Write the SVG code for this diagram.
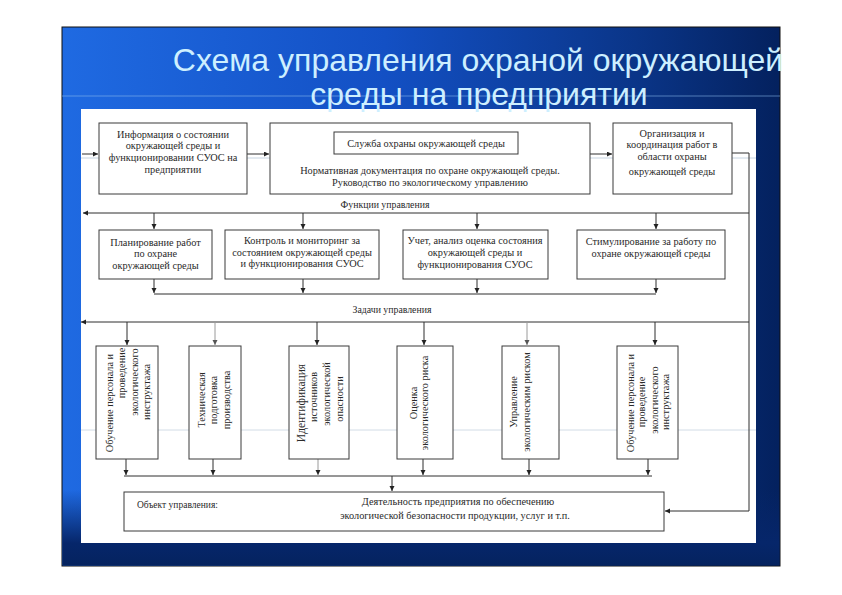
<svg xmlns="http://www.w3.org/2000/svg" width="842" height="595" viewBox="0 0 842 595">
<defs>
<linearGradient id="bg" x1="62" y1="0" x2="780" y2="0" gradientUnits="userSpaceOnUse">
<stop offset="0" stop-color="#1f6ae2"/>
<stop offset="0.45" stop-color="#1350c4"/>
<stop offset="0.8" stop-color="#0a3588"/>
<stop offset="1" stop-color="#04215e"/>
</linearGradient>
<linearGradient id="bot" x1="0" y1="490" x2="0" y2="566" gradientUnits="userSpaceOnUse">
<stop offset="0" stop-color="#06266a" stop-opacity="0"/>
<stop offset="0.7" stop-color="#06266a" stop-opacity="1"/>
<stop offset="1" stop-color="#05235f" stop-opacity="1"/>
</linearGradient>
<marker id="ah" markerUnits="userSpaceOnUse" markerWidth="6" markerHeight="6" refX="5" refY="2.5" orient="auto">
<path d="M0,0 L5,2.5 L0,5 z" fill="#222"/>
</marker>
<marker id="ahl" markerUnits="userSpaceOnUse" markerWidth="6" markerHeight="6" refX="5" refY="2.5" orient="auto">
<path d="M0,0 L5,2.5 L0,5 z" fill="#555"/>
</marker>
</defs>
<style>
.box{fill:#fff;stroke:#3a3a3a;stroke-width:1}
.t{font-family:"Liberation Serif","DejaVu Serif",serif;font-size:10.3px;fill:#2a2a2a;text-anchor:middle}
.tl{font-family:"Liberation Serif","DejaVu Serif",serif;font-size:10px;fill:#2a2a2a}
.c{fill:none;stroke:#2e2e2e;stroke-width:1}
.cl{fill:none;stroke:#9a9a9a;stroke-width:1}
.ttl{font-family:"Liberation Sans",Arial,sans-serif;font-size:32px;fill:#cdefff;text-anchor:middle}
</style>
<rect x="0" y="0" width="842" height="595" fill="#fff"/>
<g id="slide">
<rect x="62" y="27" width="718" height="539" fill="url(#bg)" stroke="#111" stroke-width="1"/>
<rect x="62.5" y="490" width="717" height="75.5" fill="url(#bot)"/>
<line x1="62" y1="96" x2="780" y2="96" stroke="#8fc0ee" stroke-opacity="0.55" stroke-width="1"/>
<rect x="81" y="109" width="675" height="434" fill="#fff"/>
<line x1="81" y1="158" x2="756" y2="158" stroke="#c6d4e2" stroke-width="1"/>
<line x1="81" y1="430" x2="756" y2="430" stroke="#d2dce6" stroke-width="1"/>
</g>
<g id="title">
<text class="ttl" x="478" y="71">Схема управления охраной окружающей</text>
<text class="ttl" x="479" y="105">среды на предприятии</text>
</g>
<g id="connectors">
<path class="c" d="M82,154 H98" marker-end="url(#ah)"/>
<path class="c" d="M247,154 H269" marker-end="url(#ah)"/>
<path class="c" d="M590,154 H612" marker-end="url(#ah)"/>
<path class="c" d="M732,153 H749 V511 H665" marker-end="url(#ah)"/>
<path class="c" d="M749,213 H83" marker-end="url(#ah)"/>
<path class="c" d="M154,213 V229" marker-end="url(#ah)"/>
<path class="c" d="M303,213 V229" marker-end="url(#ah)"/>
<path class="c" d="M477,213 V229" marker-end="url(#ah)"/>
<path class="c" d="M656,213 V229" marker-end="url(#ah)"/>
<path class="c" d="M154,279 V293" marker-end="url(#ah)"/>
<path class="c" d="M303,279 V293" marker-end="url(#ah)"/>
<path class="c" d="M477,279 V293" marker-end="url(#ah)"/>
<path class="c" d="M656,279 V293" marker-end="url(#ah)"/>
<path class="c" d="M154,294 H656"/>
<path class="c" d="M749,322 H81" marker-end="url(#ah)"/>
<path class="c" d="M127,322 V345" marker-end="url(#ah)"/>
<path class="cl" d="M215,322 V345" marker-end="url(#ahl)"/>
<path class="c" d="M317,322 V345" marker-end="url(#ah)"/>
<path class="c" d="M424,322 V345" marker-end="url(#ah)"/>
<path class="cl" d="M527,322 V345" marker-end="url(#ahl)"/>
<path class="c" d="M655,322 V345" marker-end="url(#ah)"/>
<path class="c" d="M126,459 V475" marker-end="url(#ah)"/>
<path class="c" d="M213,459 V475" marker-end="url(#ah)"/>
<path class="cl" d="M318,459 V475" marker-end="url(#ah)"/>
<path class="c" d="M423,459 V475" marker-end="url(#ah)"/>
<path class="c" d="M529,459 V475" marker-end="url(#ah)"/>
<path class="c" d="M648,459 V475" marker-end="url(#ah)"/>
<path class="c" d="M124,476 H652"/>
<path class="c" d="M392,476 V491" marker-end="url(#ah)"/>
<text class="t" x="385" y="207.5" style="font-size:9.8px">Функции управления</text>
<text class="t" x="392" y="312.5" style="font-size:9.8px">Задачи управления</text>
</g>
<g id="info">
<rect class="box" x="99" y="123" width="148" height="71"/>
<text class="t" x="173" y="137.5">Информация о состоянии</text>
<text class="t" x="173" y="149">окружающей среды и</text>
<text class="t" x="173" y="160.5">функционировании СУОС на</text>
<text class="t" x="173" y="173">предприятии</text>
</g>
<g id="service">
<rect class="box" x="270" y="123" width="320" height="71"/>
<rect class="box" x="334" y="132" width="184" height="22"/>
<text class="t" x="426" y="146.5">Служба охраны окружающей среды</text>
<text class="t" x="430" y="174">Нормативная документация по охране окружающей среды.</text>
<text class="t" x="430" y="186">Руководство по экологическому управлению</text>
</g>
<g id="organization">
<rect class="box" x="613" y="123" width="119" height="71"/>
<text class="t" x="672" y="136.5">Организация и</text>
<text class="t" x="672" y="148">координация работ в</text>
<text class="t" x="672" y="160">области охраны</text>
<text class="t" x="672" y="174.5">окружающей среды</text>
</g>
<g id="planning">
<rect class="box" x="99" y="230" width="113" height="49"/>
<text class="t" x="155.5" y="245.5">Планирование работ</text>
<text class="t" x="155.5" y="256.5">по охране</text>
<text class="t" x="155.5" y="268.5">окружающей среды</text>
</g>
<g id="control">
<rect class="box" x="225" y="230" width="154" height="49"/>
<text class="t" x="302" y="244">Контроль и мониторинг за</text>
<text class="t" x="302" y="255.5">состоянием окружающей среды</text>
<text class="t" x="302" y="266.5">и функционирования СУОС</text>
</g>
<g id="accounting">
<rect class="box" x="403" y="230" width="145" height="49"/>
<text class="t" x="475" y="244">Учет, анализ оценка состояния</text>
<text class="t" x="475" y="256">окружающей среды и</text>
<text class="t" x="475" y="267.5">функционирования СУОС</text>
</g>
<g id="stimulation">
<rect class="box" x="577" y="230" width="148" height="49"/>
<text class="t" x="651" y="244.5">Стимулирование за работу по</text>
<text class="t" x="651" y="256.5">охране окружающей среды</text>
</g>
<g id="training1">
<rect class="box" x="96" y="346" width="62" height="113"/>
<text class="t" transform="translate(113,403) rotate(-90)">Обучение персонала и</text>
<text class="t" transform="translate(125,373) rotate(-90)">проведение</text>
<text class="t" transform="translate(138,382) rotate(-90)">экологического</text>
<text class="t" transform="translate(150,392) rotate(-90)">инструктажа</text>
</g>
<g id="technical">
<rect class="box" x="189" y="346" width="52" height="113"/>
<text class="t" transform="translate(205,400) rotate(-90)">Техническая</text>
<text class="t" transform="translate(217,400) rotate(-90)">подготовка</text>
<text class="t" transform="translate(230,400) rotate(-90)">производства</text>
</g>
<g id="identification">
<rect class="box" x="289" y="346" width="60" height="113"/>
<text class="t" transform="translate(304.5,403) rotate(-90)" style="font-size:11.5px">Идентификация</text>
<text class="t" transform="translate(317,397) rotate(-90)">источников</text>
<text class="t" transform="translate(330,394) rotate(-90)">экологической</text>
<text class="t" transform="translate(343,399) rotate(-90)">опасности</text>
</g>
<g id="assessment">
<rect class="box" x="397" y="346" width="56" height="113"/>
<text class="t" transform="translate(417,403) rotate(-90)">Оценка</text>
<text class="t" transform="translate(428,403) rotate(-90)">экологического риска</text>
</g>
<g id="management">
<rect class="box" x="502" y="346" width="57" height="113"/>
<text class="t" transform="translate(517,402) rotate(-90)">Управление</text>
<text class="t" transform="translate(530,402) rotate(-90)">экологическим риском</text>
</g>
<g id="training2">
<rect class="box" x="617" y="346" width="61" height="113"/>
<text class="t" transform="translate(633.5,403) rotate(-90)">Обучение персонала и</text>
<text class="t" transform="translate(645,402) rotate(-90)">проведение</text>
<text class="t" transform="translate(657.5,400) rotate(-90)">экологического</text>
<text class="t" transform="translate(669,402) rotate(-90)">инструктажа</text>
</g>
<g id="object">
<rect class="box" x="124" y="492" width="540" height="39"/>
<text class="tl" x="137" y="507.5" style="font-size:9.5px">Объект управления:</text>
<text class="t" x="458" y="505">Деятельность предприятия по обеспечению</text>
<text class="t" x="455" y="518.5">экологической безопасности продукции, услуг и т.п.</text>
</g>
</svg>
